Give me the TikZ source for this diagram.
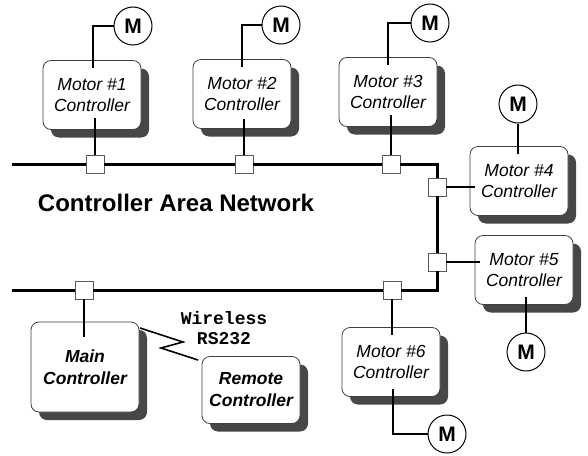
\documentclass[tikz,border=0pt]{standalone}
\usepackage{fontspec}
\setmainfont{Liberation Sans}
\newfontfamily\monofam{Liberation Mono}
\usetikzlibrary{shadows,calc}
\tikzset{
  ctrl/.style={rectangle, rounded corners=8pt, draw=black!75, line width=0.8pt, fill=white,
    minimum width=98pt, minimum height=69pt, inner sep=0pt, align=center,
    font=\fontsize{17.5}{20.5}\selectfont\itshape,
    drop shadow={shadow xshift=8pt, shadow yshift=-8pt, fill=black!72, opacity=1}},
  mainctrl/.style={ctrl, font=\fontsize{17.5}{22}\selectfont\bfseries\itshape},
  motor/.style={circle, draw=black, line width=1pt, fill=white, minimum size=38pt, inner sep=0pt,
    font=\fontsize{21}{21}\selectfont\bfseries},
  tap/.style={rectangle, draw=black!65, line width=0.8pt, fill=white, minimum size=18pt, inner sep=0pt},
  bus/.style={line width=3pt, black},
  wire/.style={line width=2.4pt, black},
  radio/.style={line width=1.6pt, black},
}
\begin{document}
\begin{tikzpicture}[x=1pt,y=-1pt]
\useasboundingbox (0,0) rectangle (588,455);
% controllers
\node[ctrl] (b1) at (92,95) {Motor \#1\\Controller};
\node[ctrl] (b2) at (242,94) {Motor \#2\\Controller};
\node[ctrl] (b3) at (388,92) {Motor \#3\\Controller};
\node[ctrl] (b4) at (519,181) {Motor \#4\\Controller};
\node[ctrl] (b5) at (524,270) {Motor \#5\\Controller};
\node[ctrl] (b6) at (391,362) {Motor \#6\\Controller};
\node[mainctrl, minimum width=108pt, minimum height=90pt] (mc) at (85,367) {Main\\Controller};
\node[mainctrl, minimum height=67pt] (rc) at (251,390) {Remote\\Controller};
% motors
\node[motor] (m1) at (133,26) {M};
\node[motor] (m2) at (281,25) {M};
\node[motor] (m3) at (430,23) {M};
\node[motor] (m4) at (518,104) {M};
\node[motor] (m5) at (526,352) {M};
\node[motor] (m6) at (447,434) {M};
% bus coordinates
\coordinate (t0) at (12,164);
\coordinate (c1) at (437,164);
\coordinate (c2) at (437,290);
\coordinate (l0) at (12,290);
% taps
\node[tap] (s1) at (95,164) {};
\node[tap] (s2) at (244,164) {};
\node[tap] (s3) at (391,164) {};
\node[tap] (s4) at (437,187) {};
\node[tap] (s5) at (437,262) {};
\node[tap] (s6) at (392,290) {};
\node[tap] (s7) at (84,290) {};
% bus
\draw[bus] (t0) -- (s1.west);
\draw[bus] (s1.east) -- (s2.west);
\draw[bus] (s2.east) -- (s3.west);
\draw[bus] (s3.east) -- (c1) -- (s4.north);
\draw[bus] (s4.south) -- (s5.north);
\draw[bus] (s5.south) -- (c2) -- (s6.east);
\draw[bus] (s6.west) -- (s7.east);
\draw[bus] (s7.west) -- (l0);
% motor wires
\draw[wire] ($(b1.north)+(1,8)$) |- (m1.west);
\draw[wire] ($(b2.north)+(0,8)$) |- (m2.west);
\draw[wire] ($(b3.north)+(0,8)$) |- (m3.west);
\draw[wire] (m4.south) -- ($(m4.south |- b4.north)+(0,8)$);
\draw[wire] (m5.north) -- ($(m5.north |- b5.south)+(0,-8)$);
\draw[wire] ($(b6.south)+(2,-8)$) |- (m6.west);
% tap wires
\draw[wire] (s1.north) -- ($(s1.north |- b1.south)+(0,-12)$);
\draw[wire] (s2.north) -- ($(s2.north |- b2.south)+(0,-10)$);
\draw[wire] (s3.north) -- ($(s3.north |- b3.south)+(0,-12)$);
\draw[wire] (s4.east) -- ($(s4.east -| b4.west)+(5,0)$);
\draw[wire] (s5.east) -- ($(s5.east -| b5.west)+(5,0)$);
\draw[wire] (s6.south) -- ($(s6.south |- b6.north)+(0,8)$);
\draw[wire] (s7.south) -- ($(s7.south |- mc.north)+(0,15)$);
% wireless link
\coordinate (z1) at (140,328);
\coordinate (z2) at (183,342);
\coordinate (z3) at (161,348);
\coordinate (z4) at (198,360);
\draw[radio] (z1) -- (z2) -- (z3) -- (z4);
% labels
\node[font=\fontsize{24}{24}\selectfont\bfseries] (can) at (176,203) {Controller Area Network};
\node[align=center, font=\monofam\fontsize{18}{20}\selectfont\bfseries] (wl) at (224,328) {Wireless\\RS232};
\end{tikzpicture}
\end{document}
